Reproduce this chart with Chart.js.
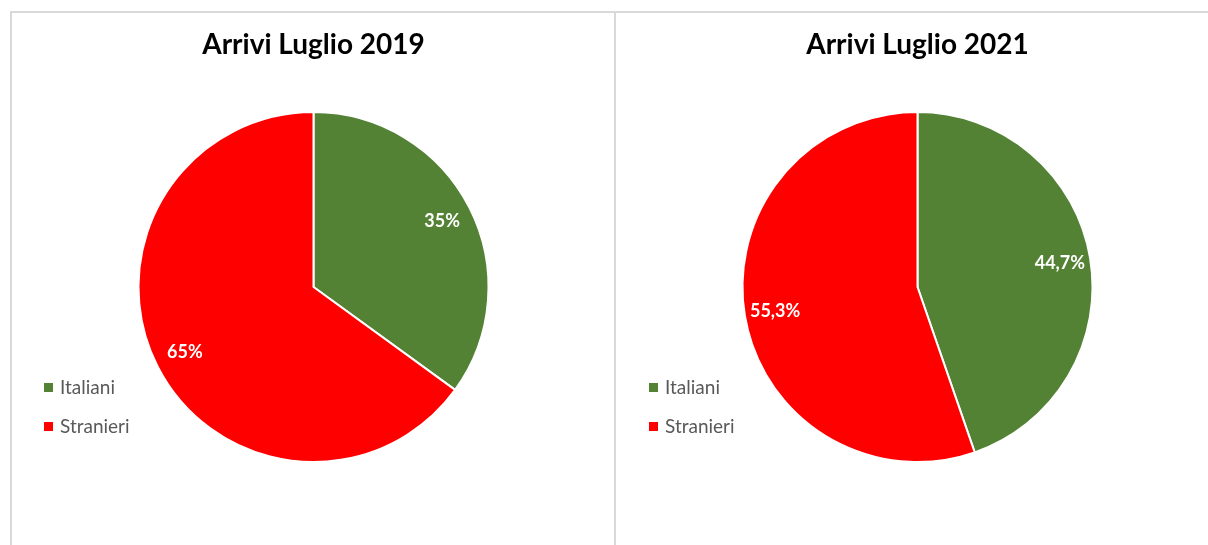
<!DOCTYPE html>
<html>
<head>
<meta charset="utf-8">
<script src="https://cdn.jsdelivr.net/npm/chart.js@4.4.1/dist/chart.umd.min.js"></script>
<style>
  body { margin: 0; background: #fff; width: 1208px; height: 545px; overflow: hidden; position: relative; }
  #frame { position: absolute; left: 10px; top: 11px; width: 1300px; height: 600px; border-top: 2px solid #d9d9d9; border-left: 2px solid #d9d9d9; }
  #divider { position: absolute; left: 614px; top: 11px; width: 2px; height: 600px; background: #d9d9d9; }
  #c2019 { position: absolute; left: 12px; top: 13px; }
  #c2021 { position: absolute; left: 617px; top: 13px; }
</style>
</head>
<body>
<div id="frame"></div>
<div id="divider"></div>
<canvas id="c2019" width="602" height="532"></canvas>
<canvas id="c2021" width="591" height="532"></canvas>
<script>
var categorie = ["Italiani", "Stranieri"];
var valori2019 = [35, 65];
var valori2021 = [44.7, 55.3];
var colori = ["#548235", "#FF0000"];

// etichette percentuali dentro le fette
var etichettePlugin = {
  id: "etichette",
  afterDatasetsDraw: function (chart) {
    var ctx = chart.ctx;
    var meta = chart.getDatasetMeta(0);
    var dati = chart.data.datasets[0].data;
    ctx.save();
    ctx.font = "bold 18px Lato";
    ctx.fillStyle = "#ffffff";
    ctx.textAlign = "center";
    ctx.textBaseline = "middle";
    meta.data.forEach(function (arc, i) {
      var p = arc.getProps(["x", "y", "startAngle", "endAngle", "outerRadius"], true);
      var mid = (p.startAngle + p.endAngle) / 2;
      var r = p.outerRadius * 0.825;
      var testo = String(dati[i]).replace(".", ",") + "%";
      ctx.fillText(testo, p.x + Math.cos(mid) * r, p.y + Math.sin(mid) * r);
    });
    ctx.restore();
  }
};

// legenda a sinistra
var legendaPlugin = {
  id: "legenda",
  afterDraw: function (chart) {
    var ctx = chart.ctx;
    var colors = chart.data.datasets[0].backgroundColor;
    ctx.save();
    ctx.font = "19px Lato";
    ctx.textBaseline = "middle";
    chart.data.labels.forEach(function (lab, i) {
      var y = 370 + i * 39;
      ctx.fillStyle = colors[i];
      ctx.fillRect(32, y, 9, 9);
      ctx.fillStyle = "#595959";
      ctx.fillText(lab, 48, y + 5);
    });
    ctx.restore();
  }
};

function creaTorta(id, titolo, valori, padLeft, padRight) {
  return new Chart(document.getElementById(id), {
    type: "pie",
    data: {
      labels: categorie,
      datasets: [
        {
          data: valori,
          backgroundColor: colori,
          borderColor: "#ffffff",
          borderWidth: 2,
          hoverOffset: 0
        }
      ]
    },
    options: {
      responsive: false,
      animation: false,
      layout: {
        padding: { left: padLeft, right: padRight, top: 14.7, bottom: 82 }
      },
      plugins: {
        legend: { display: false },
        tooltip: { enabled: false },
        title: {
          display: true,
          text: titolo,
          color: "#000000",
          font: { family: "Lato", size: 28, weight: "bold", lineHeight: 1.2 },
          padding: { top: 0, bottom: 49.7 }
        }
      }
    },
    plugins: [etichettePlugin, legendaPlugin]
  });
}

creaTorta("c2019", "Arrivi Luglio 2019", valori2019, 125.5, 124.5);
creaTorta("c2021", "Arrivi Luglio 2021", valori2021, 124.5, 114.5);
</script>
</body>
</html>
